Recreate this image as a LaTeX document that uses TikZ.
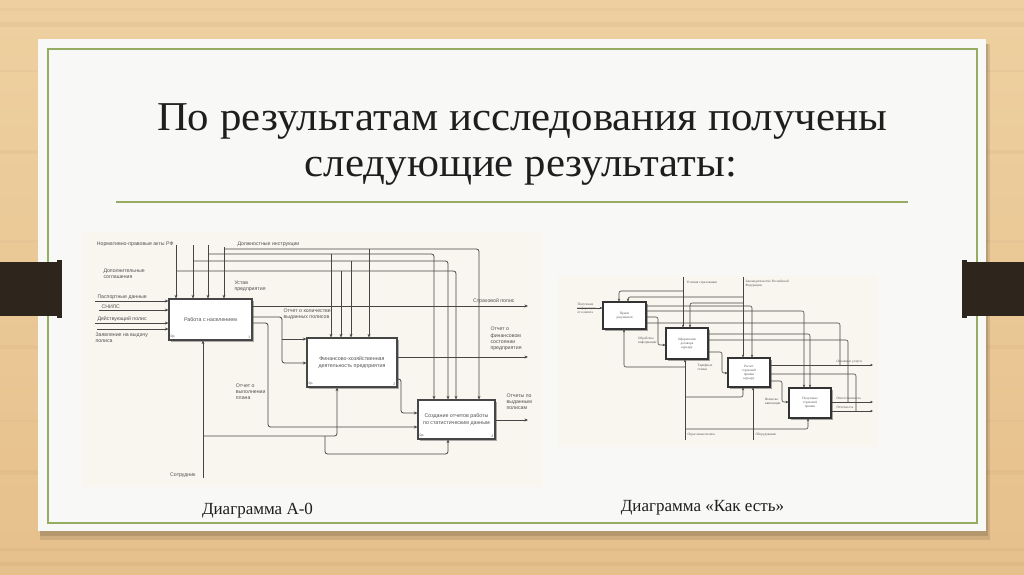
\documentclass[tikz,border=0pt]{standalone}
\usepackage{fontspec}
\setmainfont{Liberation Serif}
\newfontfamily\sansf{Liberation Sans}
\usetikzlibrary{arrows.meta,shadows}
\definecolor{woodA}{RGB}{238,208,160}
\definecolor{woodB}{RGB}{230,192,140}
\definecolor{cardc}{RGB}{248,248,247}
\definecolor{greenl}{RGB}{150,172,98}
\definecolor{tabc}{RGB}{46,37,28}
\definecolor{panelc}{RGB}{248,246,238}
\definecolor{dline}{RGB}{70,70,70}
\definecolor{dtext}{RGB}{80,80,80}
\definecolor{titlec}{RGB}{30,30,30}
\tikzset{
  ln/.style={draw=dline, line width=0.8pt, rounded corners=2.5pt},
  arr/.style={ln, -{Stealth[length=3.6pt,width=3pt]}},
  idbox/.style={draw=dline, line width=1.1pt, fill=white, inner sep=0pt, align=center,
     drop shadow={shadow xshift=2pt, shadow yshift=-2pt, fill=black!45, opacity=0.7},
     text=dtext, font=\sansf\fontsize{5.3}{7}\selectfont},
  lbl/.style={inner sep=0.3pt, text=dtext, align=left, font=\sansf\fontsize{5.2}{6.2}\selectfont},
  tag/.style={inner sep=0.5pt, text=dtext, font=\sansf\fontsize{3.4}{3.4}\selectfont},
  rln/.style={draw=dline, line width=0.6pt, rounded corners=2pt},
  rarr/.style={rln, -{Stealth[length=2.8pt,width=2.4pt]}},
  rbox/.style={draw=black!80, line width=1.1pt, fill=white, inner sep=0pt, align=center,
     drop shadow={shadow xshift=1.5pt, shadow yshift=-1.5pt, fill=black!50, opacity=0.7},
     text=dtext, font=\fontsize{3.3}{3.9}\selectfont},
  rlbl/.style={inner sep=0.3pt, text=dtext, align=left, font=\fontsize{3.4}{4}\selectfont},
  captxt/.style={text=titlec, font=\fontsize{17}{20}\selectfont},
  ttl/.style={text=titlec, font=\fontsize{41}{46}\selectfont}
}
\begin{document}
\begin{tikzpicture}[x=1pt,y=-1pt]
\useasboundingbox (0,0) rectangle (1024,574);
% wood background
\shade[top color=woodA, bottom color=woodB] (0,0) rectangle (1024,574);
\foreach \yy/\hh/\op in {8/3/0.04,22/5/0.05,70/2/0.04,150/4/0.03,240/3/0.03,345/4/0.04,420/2/0.03,470/5/0.04,548/3/0.05,562/4/0.05}
  \fill[brown!60!black, opacity=\op] (0,\yy) rectangle (1024,\yy+\hh);
% card shadow and card
\fill[black, opacity=0.10] (40,44) rectangle (990,540);
\fill[black, opacity=0.12] (40,44) rectangle (988,536);
\fill[cardc] (38,39) rectangle (986,531);
\draw[greenl, line width=1.2pt] (48,49) rectangle (977,523);
% tabs
\fill[tabc] (0,262) rectangle (60,316);
\fill[tabc] (57,260) rectangle (62,318);
\fill[tabc] (964,262) rectangle (1024,316);
\fill[tabc] (962,260) rectangle (967,318);
% title
\node[ttl, anchor=base] (t1) at (522,130) {\scalebox{1.045}[1]{По результатам исследования получены}};
\node[ttl, anchor=base] (t2) at (521,176) {\scalebox{1.045}[1]{следующие результаты:}};
\draw[greenl, line width=1.4pt] (116,202) -- (908,202);
% captions
\node[captxt, anchor=base] (cap1) at (257.5,514) {Диаграмма А-0};
\node[captxt, anchor=base] (cap2) at (702.5,511) {Диаграмма «Как есть»};

% ================= LEFT DIAGRAM (A-0) =================
\fill[panelc] (82,232) rectangle (543,487);
\node[idbox, minimum width=83pt, minimum height=41pt] (b1) at (210.5,319.5) {Работа с населением};
\node[idbox, minimum width=90pt, minimum height=49pt] (b2) at (352,362.5) {Финансово-хозяйственная\\деятельность предприятия};
\node[idbox, minimum width=77pt, minimum height=39pt] (b3) at (456.5,419.5) {Создание отчетов работы\\по статистическим данным};
\node[tag, anchor=south west] (b1t) at (170,339) {0р.};
\node[tag, anchor=south east] (b1n) at (251,339) {1};
\node[tag, anchor=south west] (b2t) at (308,386) {0р.};
\node[tag, anchor=south east] (b2n) at (396,386) {2};
\node[tag, anchor=south west] (b3t) at (419,438) {0р.};
\node[tag, anchor=south east] (b3n) at (494,438) {3};
% controls of box 1
\coordinate (c1) at (176,245);
\coordinate (c2) at (193,245);
\coordinate (c3) at (208,245);
\coordinate (c4) at (224,247);
\draw[arr] (c1) -- (c1 |- b1.north);
\draw[arr] (c2) -- (c2 |- b1.north);
\draw[arr] (c3) -- (c3 |- b1.north);
\draw[arr] (c4) -- (c4 |- b1.north);
\node[lbl, anchor=east] (lnpa) at (174,244) {Нормативно-правовые акты РФ};
\node[lbl, anchor=west] (ldi) at (237,244.5) {Должностные инструкции};
\node[lbl, anchor=north west] (lds) at (103,268) {Дополнительные\\соглашения};
\node[lbl, anchor=north west] (lup) at (234,280) {Устав\\предприятия};
% control branches
\draw[arr] (224,249) -| (479,0 |- b3.north);
\draw[arr] (208,254) -| (434,0 |- b3.north);
\draw[arr] (193,261) -| (448,0 |- b3.north);
\draw[arr] (176,271) -| (456,0 |- b3.north);
\draw[arr] (369,249) -- (369,0 |- b2.north);
\draw[arr] (331,254) -- (331,0 |- b2.north);
\draw[arr] (351,261) -- (351,0 |- b2.north);
\draw[arr] (341,271) -- (341,0 |- b2.north);
% inputs of box 1
\coordinate (i1) at (95,301);
\coordinate (i2) at (99,310);
\coordinate (i3) at (95,323);
\coordinate (i4) at (97,329);
\draw[arr] (i1) -- (b1.west |- i1);
\draw[arr] (i2) -- (b1.west |- i2);
\draw[arr] (i3) -- (b1.west |- i3);
\draw[arr] (i4) -- (b1.west |- i4);
\node[lbl, anchor=south west] (lpd) at (97,300.5) {Паспортные данные};
\node[lbl, anchor=south west] (lsn) at (101,309.5) {СНИЛС};
\node[lbl, anchor=south west] (ldp) at (97,322.5) {Действующий полис};
\node[lbl, anchor=north west] (lzv) at (95,332) {Заявление на выдачу\\полиса};
% outputs of box 1
\coordinate (o1) at (528,306);
\draw[arr] (b1.east |- o1) -- (o1);
\node[lbl, anchor=south east] (lsp) at (515,304.5) {Страховой полис};
\draw[arr] (b1.east |- 0,317) -| (282,363) -- (b2.west |- 0,363);
\draw[arr] (282,339) -- (b2.west |- 0,339);
\node[lbl, anchor=north west] (lok) at (283,308) {Отчет о количестве\\выданных полисов};
\draw[arr] (b1.east |- 0,323) -| (268,427) -- (b3.west |- 0,427);
\node[lbl, anchor=north east] (lov) at (266,383) {Отчет о\\выполнении\\плана};
% outputs of box 2
\coordinate (o2) at (528,357);
\draw[arr] (b2.east |- o2) -- (o2);
\node[lbl, anchor=south west] (lof) at (490,351) {Отчет о\\финансовом\\состоянии\\предприятия};
\draw[arr] (b2.east |- 0,379) -| (401,413) -- (b3.west |- 0,413);
% output of box 3
\coordinate (o3) at (528,420);
\draw[arr] (b3.east |- o3) -- (o3);
\node[lbl, anchor=south west] (lop) at (506,410) {Отчеты по\\выданным\\полисам};
% mechanisms
\coordinate (m1) at (203,478);
\draw[arr] (m1) -- (m1 |- b1.south);
\draw[arr] (203,436) -| (337,0 |- b2.south);
\draw[arr] (325,436) |- (448,454) -- (448,0 |- b3.south);
\node[lbl, anchor=east] (lso) at (196,475) {Сотрудник};

% ================= RIGHT DIAGRAM (As is) =================
\fill[panelc] (558,276) rectangle (878,447);
\node[rbox, minimum width=43pt, minimum height=27pt] (ra) at (624.5,315.5) {Прием\\документов};
\node[rbox, minimum width=42pt, minimum height=31pt] (rb) at (687,343.5) {Оформление\\договора\\курьеру};
\node[rbox, minimum width=42pt, minimum height=29pt] (rc) at (749,372.5) {Расчет\\страховой\\премии\\курьеру};
\node[rbox, minimum width=42pt, minimum height=30pt] (rd) at (810,403) {Получение\\страховой\\премии};
% controls
\coordinate (ru) at (683,277);
\coordinate (rz) at (743,277);
\draw[rarr] (ru) -- (ru |- rb.north);
\draw[rarr] (rz) -- (rz |- rc.north);
\draw[rarr] (683,291) -| (619,0 |- ra.north);
\draw[rarr] (743,297) -| (628,0 |- ra.north);
\draw[rarr] (743,303) -| (690,0 |- rb.north);
\node[rlbl, anchor=west] (rlu) at (686,283) {Условия страхования};
\node[rlbl, anchor=north west] (rlz) at (745,280) {Законодательство Российской\\Федерации};
% input of A
\coordinate (ri) at (577,308);
\draw[rarr] (ri) -- (ra.west |- ri);
\node[rlbl, anchor=north west] (rli) at (577,302.5) {Получение\\информации\\от клиента};
% outputs of A
\draw[rarr] (ra.east |- 0,306) -| (752,0 |- rc.north);
\draw[rarr] (ra.east |- 0,311) -| (804,0 |- rd.north);
\draw[rarr] (ra.east |- 0,317) -| (658,345) -- (rb.west |- 0,345);
\draw[rln] (ra.east |- 0,323) -| (840,365);
\node[rlbl, anchor=east] (rlo) at (657,341) {Обработка\\информации};
% outputs of B
\draw[rarr] (rb.east |- 0,334) -| (810,0 |- rd.north);
\draw[rln] (rb.east |- 0,340) -| (848,402);
\draw[rarr] (rb.east |- 0,352) -| (722,373) -- (rc.west |- 0,373);
\node[rlbl, anchor=north west] (rlt) at (697,364) {Тарифные\\ставки};
% outputs of C
\coordinate (ro1) at (873,365);
\draw[rarr] (rc.east |- ro1) -- (ro1);
\node[rlbl, anchor=south west] (rlos) at (836,364) {Основные услуги};
\draw[rln] (rc.east |- 0,374) -| (856,411);
\draw[rarr] (rc.east |- 0,381) -| (782,402) -- (rd.west |- 0,402);
\node[rlbl, anchor=north east] (rlv) at (781,398) {Выписка\\квитанции};
% outputs of D
\coordinate (ro2) at (873,402);
\coordinate (ro3) at (873,411);
\draw[rarr] (rd.east |- ro2) -- (ro2);
\draw[rarr] (rd.east |- ro3) -- (ro3);
\node[rlbl, anchor=south west] (rlot) at (836,400.5) {Ответственность};
\node[rlbl, anchor=south west] (rlotc) at (836,409.5) {Отчетность};
% mechanisms
\coordinate (rm1) at (685,440);
\coordinate (rm2) at (753,440);
\draw[rarr] (rm1) -- (rm1 |- rb.south);
\draw[rarr] (685,367) -| (624,0 |- ra.south);
\draw[rarr] (685,397) -| (743,0 |- rc.south);
\draw[rarr] (685,429) -| (808,0 |- rd.south);
\draw[rarr] (rm2) -- (rm2 |- rc.south);
\node[rlbl, anchor=west] (rlsh) at (687,435) {Отраслевые штаты};
\node[rlbl, anchor=west] (rlob) at (755,435) {Оборудование};
\end{tikzpicture}
\end{document}
